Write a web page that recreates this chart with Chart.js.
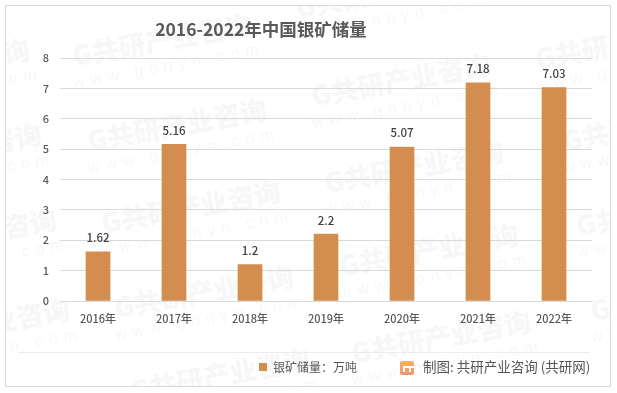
<!DOCTYPE html>
<html>
<head>
<meta charset="utf-8">
<style>
  html, body { margin: 0; padding: 0; background: #fff; }
  canvas { display: block; }
</style>
<script src="https://cdn.jsdelivr.net/npm/chart.js@4"></script>
</head>
<body>
<canvas id="chartContainer" width="617" height="393"></canvas>
<script>
"use strict";

// 1: data
const years = ['2016年', '2017年', '2018年', '2019年', '2020年', '2021年', '2022年'];
const reserves = [1.62, 5.16, 1.2, 2.2, 5.07, 7.18, 7.03];
const yTicks = [0, 1, 2, 3, 4, 5, 6, 7, 8];
const chartTitle = '2016-2022年中国银矿储量';
const seriesName = '银矿储量：万吨';
const sourceText = '制图: 共研产业咨询 (共研网)';
const markName = 'G共研产业咨询';
const markSite = 'www.gonyn.com';

const cjk = '"Noto Sans CJK SC", "Noto Sans", sans-serif';

// 2: background bits: faint watermark, frame, footer rule
const marks = [[162, 40], [401, 80], [177, 125], [191, 207], [204, 292], [414, 167], [429, 250], [441, 337],
  [625, 43], [652, 125], [666, 210], [680, 295], [-60, 65], [-48, 150], [-33, 235], [-20, 325], [220, 375], [385, -8]];

const backdrop = {
  id: 'backdrop',
  beforeDraw(chart) {
    const c = chart.ctx;
    c.save();
    for (const [x, y] of marks) {
      c.save();
      c.translate(x, y);
      c.rotate(-0.18);
      c.textAlign = 'center';
      c.textBaseline = 'middle';
      c.fillStyle = 'rgba(110,110,110,0.055)';
      c.font = '900 27px ' + cjk;
      c.fillText(markName, 0, 0);
      c.font = '16px "Liberation Sans", sans-serif';
      c.letterSpacing = '6px';
      c.fillText(markSite, 2, 27);
      c.restore();
    }
    c.fillStyle = '#ffffff';
    c.fillRect(0, 0, 617, 5);
    c.fillRect(0, 387, 617, 6);
    c.fillRect(0, 0, 5, 393);
    c.fillRect(611, 0, 6, 393);
    c.strokeStyle = '#d9d9d9';
    c.lineWidth = 1;
    c.strokeRect(5.5, 5.5, 605, 381);
    c.strokeStyle = '#ececec';
    c.beginPath();
    c.moveTo(18, 352.5);
    c.lineTo(590, 352.5);
    c.stroke();
    c.restore();
  }
};

// 3: value labels, source line and logo
const extras = {
  id: 'extras',
  afterLayout(chart) {
    // move title and legend to where the original has them
    chart.titleBlock.left = 0;
    chart.titleBlock.right = 522;
    chart.legend.left = 257;
  },
  afterDatasetsDraw(chart) {
    const c = chart.ctx;
    c.save();
    c.fillStyle = '#404040';
    c.font = '500 11.5px ' + cjk;
    c.textAlign = 'center';
    c.textBaseline = 'middle';
    chart.getDatasetMeta(0).data.forEach((bar, i) => {
      c.fillText(reserves[i], bar.x, bar.y - 14);
    });
    // logo
    const g = c.createLinearGradient(0, 361, 0, 375);
    g.addColorStop(0, '#f5b455');
    g.addColorStop(1, '#f1917a');
    c.fillStyle = g;
    c.beginPath();
    c.roundRect(400, 361, 14, 14, 2);
    c.fill();
    c.fillStyle = '#fff';
    c.fillRect(403, 366, 11, 2);
    c.fillRect(403, 366, 2, 6);
    c.fillRect(409, 368, 2, 4);
    c.fillStyle = '#555555';
    c.font = '13.5px ' + cjk;
    c.textAlign = 'left';
    c.fillText(sourceText, 423, 367);
    c.restore();
  }
};

// 4: create the chart
const chart = new Chart(document.getElementById('chartContainer'), {
  type: 'bar',
  data: {
    labels: years,
    datasets: [{
      label: seriesName,
      data: reserves,
      backgroundColor: '#d38d4e',
      barThickness: 24
    }]
  },
  options: {
    responsive: false,
    animation: false,
    layout: { padding: { left: 0, right: 25, top: 0, bottom: 10 } },
    plugins: {
      title: {
        display: true,
        text: chartTitle,
        color: '#595959',
        font: { family: cjk, size: 17.5, weight: 'bold' },
        padding: { top: 19, bottom: 18 }
      },
      legend: {
        position: 'bottom',
        align: 'start',
        labels: {
          boxWidth: 8,
          boxHeight: 8,
          color: '#555555',
          font: { family: cjk, size: 12 },
          padding: 2
        }
      },
      tooltip: { enabled: false }
    },
    scales: {
      x: {
        grid: { display: false },
        border: { color: '#d9d9d9' },
        ticks: { color: '#595959', font: { family: cjk, size: 11, weight: '500' }, padding: 3, maxRotation: 0 },
        afterFit(axis) { axis.height = 58; }
      },
      y: {
        min: 0,
        max: 8,
        afterBuildTicks(axis) { axis.ticks = yTicks.map(v => ({ value: v })); },
        grid: { color: '#d9d9d9', drawTicks: false },
        border: { display: false },
        ticks: { color: '#595959', font: { family: cjk, size: 11, weight: '500' }, padding: 11 },
        afterFit(axis) { axis.width = 60; }
      }
    }
  },
  plugins: [backdrop, extras]
});
</script>
</body>
</html>
